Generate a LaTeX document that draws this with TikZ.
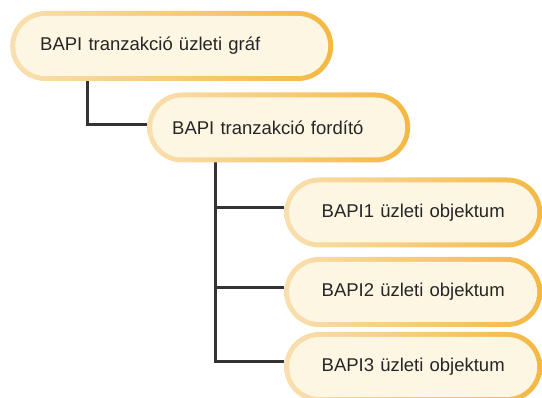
\documentclass[tikz,border=0pt]{standalone}
\usepackage{fontspec}
\setmainfont{Liberation Sans}
\usetikzlibrary{calc}
\usetikzlibrary{backgrounds}

\definecolor{rimL}{HTML}{F9DFB0}
\definecolor{rimR}{HTML}{F4B843}
\definecolor{cream}{HTML}{FDF6E3}
\definecolor{wire}{HTML}{333333}

\tikzset{
  bapi/.style={rounded corners=35pt, minimum height=70pt, inner ysep=0pt,
    left color=rimL, right color=rimR, anchor=west,
    font=\fontsize{18.5}{22}\selectfont, text=black!85,
    path picture={\fill[cream, rounded corners=30pt]
      ($(path picture bounding box.south west)+(5pt,5pt)$) rectangle
      ($(path picture bounding box.north east)+(-5pt,-5pt)$);}},
  wire/.style={draw=wire, line width=3pt}
}

\begin{document}
\begin{tikzpicture}[x=1pt,y=-1pt]
\useasboundingbox (0,0) rectangle (542,398);
\node (graf) at (10,46) [bapi, minimum width=323pt, text width=263pt, inner xsep=30pt, align=left] {BAPI tranzakció üzleti gráf};
\node (ford) at (147,127.5) [bapi, minimum width=263pt, text width=213pt, inner xsep=25pt, align=left] {BAPI tranzakció fordító};
\node (obj1) at (284,212.5) [bapi, minimum width=258pt, text width=228pt, inner xsep=15pt, align=center] {BAPI1 üzleti objektum};
\node (obj2) at (284,292) [bapi, minimum width=258pt, text width=228pt, inner xsep=15pt, align=center] {BAPI2 üzleti objektum};
\node (obj3) at (284,367) [bapi, minimum width=258pt, text width=228pt, inner xsep=15pt, align=center] {BAPI3 üzleti objektum};
\begin{scope}[on background layer]
\draw [wire] ($(graf.south west)+(77,-2)$) |- ([yshift=3pt]ford.west);
\draw [wire] ($(ford.south west)+(68,-2)$) |- ([yshift=5pt]obj1.west);
\draw [wire] ($(ford.south west)+(68,-2)$) |- ([yshift=4pt]obj2.west);
\draw [wire] ($(ford.south west)+(68,-2)$) |- ([yshift=5pt]obj3.west);
\end{scope}
\end{tikzpicture}
\end{document}
